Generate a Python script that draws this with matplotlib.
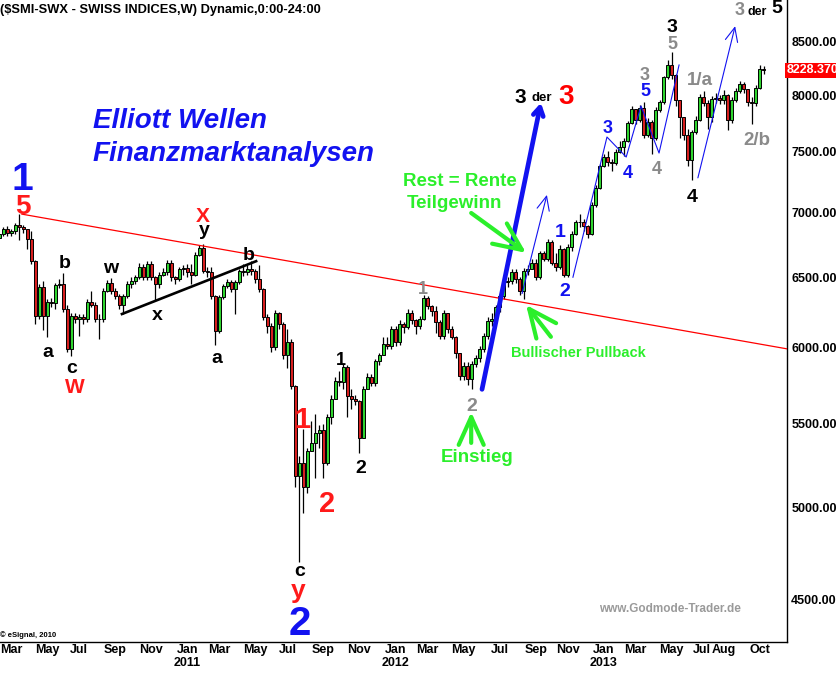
import numpy as np
import pandas as pd
import matplotlib
matplotlib.use('Agg')
import matplotlib.pyplot as plt
from matplotlib.ticker import FixedLocator, NullLocator, FixedFormatter
from matplotlib.transforms import ScaledTranslation

plt.rcParams['font.family'] = ['Liberation Sans', 'DejaVu Sans']

# weekly SMI bars (Friday closes), first bar 2010-02-12; open = previous close
FIRST_WEEK = '2010-02-12'
first_open = 6800
closes = [
    6830, 6865, 6840, 6850, 6900, 6880, 6870, 6790, 6620, 6220,
    6430, 6220, 6320, 6310, 6440, 6450, 6270, 5990, 6220, 6200,
    6210, 6200, 6320, 6300, 6200, 6195, 6400, 6460, 6400, 6360,
    6300, 6360, 6450, 6470, 6500, 6580, 6500, 6600, 6500, 6450,
    6520, 6540, 6610, 6500, 6485, 6560, 6570, 6540, 6520, 6670,
    6720, 6550, 6540, 6360, 6115, 6355, 6435, 6465, 6410, 6465,
    6545, 6540, 6560, 6550, 6490, 6410, 6210, 6150, 6005, 6240,
    6165, 5945, 6040, 5745, 5180, 5260, 5115, 5330, 5380, 5440,
    5460, 5260, 5540, 5660, 5775, 5770, 5870, 5675, 5655, 5645,
    5410, 5725, 5800, 5760, 5905, 5945, 6025, 6010, 6130, 6040,
    6165, 6140, 6240, 6190, 6150, 6200, 6350, 6290, 6255, 6180,
    6080, 6240, 6130, 6075, 5960, 5810, 5875, 5790, 5890, 5925,
    5990, 6080, 6185, 6200, 6280, 6360, 6465, 6470, 6540, 6485,
    6400, 6550, 6565, 6610, 6500, 6680, 6640, 6770, 6610, 6580,
    6715, 6520, 6725, 6825, 6925, 6920, 6890, 6825, 7060, 7200,
    7375, 7455, 7415, 7405, 7500, 7545, 7590, 7750, 7875, 7780,
    7885, 7645, 7760, 7620, 7865, 7940, 8165, 8280, 8185, 7960,
    7800, 7645, 7430, 7670, 7780, 7985, 7930, 7800, 7965, 7975,
    7955, 8000, 7780, 7955, 8040, 8100, 8055, 7940, 7930, 8070,
    8240, 8228.37]
highs = [
    6860, 6885, 6895, 6870, 6915, 6990, 6900, 6860, 6850, 6630,
    6450, 6470, 6340, 6350, 6460, 6490, 6530, 6300, 6240, 6240,
    6230, 6230, 6340, 6400, 6320, 6230, 6420, 6480, 6495, 6420,
    6380, 6380, 6470, 6500, 6520, 6610, 6600, 6620, 6620, 6510,
    6540, 6570, 6630, 6630, 6510, 6580, 6590, 6600, 6600, 6690,
    6740, 6750, 6580, 6580, 6370, 6370, 6450, 6490, 6480, 6480,
    6560, 6600, 6590, 6620, 6560, 6590, 6420, 6230, 6170, 6260,
    6250, 6180, 6130, 6060, 5750, 5300, 5470, 5350, 5520, 5560,
    5490, 5500, 5560, 5680, 5800, 5840, 5890, 5880, 5720, 5680,
    5650, 5740, 5830, 5820, 5920, 5960, 6070, 6070, 6150, 6150,
    6190, 6180, 6270, 6260, 6200, 6220, 6370, 6360, 6300, 6290,
    6190, 6260, 6240, 6150, 6080, 5960, 5900, 5900, 5910, 5945,
    6010, 6100, 6210, 6240, 6300, 6380, 6480, 6500, 6560, 6560,
    6500, 6570, 6590, 6640, 6640, 6700, 6700, 6790, 6780, 6680,
    6740, 6720, 6750, 6850, 6940, 6990, 6950, 6900, 7080, 7220,
    7400, 7480, 7510, 7440, 7520, 7590, 7620, 7770, 7900, 7870,
    7910, 7940, 7790, 7780, 7890, 7960, 8180, 8330, 8400, 8200,
    7860, 7760, 7700, 7690, 7810, 8010, 8040, 7960, 7990, 8020,
    8000, 8050, 8010, 7980, 8070, 8130, 8120, 8060, 7980, 8090,
    8280, 8270]
lows = [
    6760, 6810, 6815, 6810, 6830, 6780, 6840, 6710, 6600, 6160,
    6200, 6120, 6070, 6280, 6270, 6420, 6250, 5970, 5940, 6170,
    6080, 6160, 6180, 6280, 6180, 6060, 6180, 6390, 6380, 6340,
    6270, 6230, 6350, 6420, 6450, 6490, 6480, 6480, 6480, 6330,
    6420, 6510, 6520, 6470, 6450, 6470, 6520, 6500, 6450, 6510,
    6660, 6530, 6500, 6340, 6020, 6100, 6340, 6420, 6390, 6230,
    6450, 6510, 6520, 6520, 6460, 6390, 6190, 6100, 5970, 5980,
    6130, 5920, 5860, 5720, 5117, 4700, 4970, 5080, 5360, 5170,
    5350, 5170, 5250, 5500, 5700, 5740, 5720, 5540, 5590, 5620,
    5320, 5420, 5720, 5740, 5740, 5880, 5990, 5990, 5990, 6010,
    6020, 6100, 6130, 6160, 6090, 6130, 6190, 6270, 6220, 6100,
    6060, 6060, 6100, 6060, 5930, 5780, 5780, 5750, 5725, 5870,
    5900, 5970, 6060, 6150, 6170, 6250, 6340, 6430, 6450, 6460,
    6370, 6340, 6520, 6560, 6480, 6490, 6620, 6620, 6590, 6550,
    6560, 6500, 6500, 6700, 6820, 6880, 6850, 6800, 6820, 7040,
    7190, 7370, 7380, 7340, 7390, 7490, 7460, 7580, 7740, 7740,
    7760, 7620, 7630, 7480, 7600, 7850, 7920, 8150, 8150, 7900,
    7620, 7600, 7380, 7265, 7650, 7770, 7900, 7700, 7760, 7930,
    7920, 7920, 7690, 7750, 7940, 8020, 8020, 7900, 7740, 7900,
    8060, 8200]

tick_months = ['2010-03', '2010-05', '2010-07', '2010-09', '2010-11',
               '2011-01', '2011-03', '2011-05', '2011-07', '2011-09', '2011-11',
               '2012-01', '2012-03', '2012-05', '2012-07', '2012-09', '2012-11',
               '2013-01', '2013-03', '2013-05', '2013-07', '2013-08', '2013-10']
y_ticks = [4500, 5000, 5500, 6000, 6500, 7000, 7500, 8000, 8500]

# drawn lines, as (bar index, price)
trend_x, trend_y = [5.7, 196.8], [6985, 5990]
xline_x, xline_y = [30.7, 64.2], [6233, 6620]
zig_x = [143.3, 151.8, 156.6, 160.3, 164.8, 169.8]
zig_y = [6500, 7627, 7455, 7902, 7489, 8280]
thick_blue = [(120.6, 5720), (135.3, 7930)]
blue_arrows = [[(130.6, 6380), (136.8, 7140)], [(174.5, 7280), (183.8, 8655)]]
green_arrows = [[(117.9, 6994), (131.6, 6683)],
                [(137.8, 6073), (131.6, 6298)],
                [(117.9, 5381), (117.9, 5574)]]

W, H = 837, 674
BLUE = '#1212f0'
RED = '#ff1a1a'
GRAY = '#8a8a8a'
GREEN = '#2bef2b'

closes = np.array(closes, dtype=float)
opens = np.r_[first_open, closes[:-1]]
hi = np.maximum(np.array(highs, dtype=float), np.maximum(opens, closes))
lo = np.minimum(np.array(lows, dtype=float), np.minimum(opens, closes))
idx = np.arange(len(closes))
dates = pd.date_range(FIRST_WEEK, periods=len(closes), freq='W-FRI')

fig = plt.figure(figsize=(W / 100, H / 100), dpi=100)
ax = fig.add_axes([0, 32 / H, 787 / W, 642 / H])

up = closes >= opens
colors = np.where(up, '#2fd42f', '#d61f1f')
ax.vlines(idx, lo, hi, color='black', lw=0.9, zorder=2)
body_lo = np.minimum(opens, closes)
body_hi = np.maximum(opens, closes)
ax.bar(idx, np.maximum(body_hi - body_lo, 1.0), bottom=body_lo, width=0.75,
       color=colors, edgecolor='black', lw=0.7, zorder=3)

ax.set_yscale('log')
ax.set_ylim(4288, 8917)
ax.set_xlim(0.25, 196.75)

ax.plot(trend_x, trend_y, color='#ff0000', lw=0.9, zorder=4)
ax.plot(xline_x, xline_y, color='black', lw=1.9, zorder=4)
ax.plot(zig_x, zig_y, color=BLUE, lw=0.8, zorder=4)


def arrow(tail, tip, color, lw, hl, hw, scale):
    ax.annotate('', xy=tip, xytext=tail,
                arrowprops=dict(arrowstyle=f'->,head_length={hl},head_width={hw}',
                                color=color, lw=lw, shrinkA=0, shrinkB=0,
                                mutation_scale=scale), zorder=5)


arrow(thick_blue[0], thick_blue[1], BLUE, 3.4, 0.5, 0.3, 12)
for a in blue_arrows:
    arrow(a[0], a[1], BLUE, 0.8, 1.0, 0.45, 10)
for a in green_arrows:
    arrow(a[0], a[1], GREEN, 3.0, 1.0, 0.45, 20)

# axes cosmetics
ax.yaxis.tick_right()
ax.yaxis.set_major_locator(FixedLocator(y_ticks))
ax.yaxis.set_minor_locator(NullLocator())
ax.yaxis.set_major_formatter(FixedFormatter([f'{v:.2f}' for v in y_ticks]))
ax.tick_params(axis='y', length=0, pad=3, labelsize=9)

months = np.array(dates.strftime('%Y-%m'))
pos, labels = [], []
for m in tick_months:
    i = int(np.argmax(months == m))
    d = dates[i]
    pos.append(i)
    labels.append(d.strftime('%b') + ('\n' + d.strftime('%Y') if d.month == 1 else ''))
ax.set_xticks(pos)
ax.set_xticklabels(labels, linespacing=1.15)
ax.xaxis.set_minor_locator(NullLocator())
ax.tick_params(axis='x', length=0, pad=1.5, labelsize=9)
for lbl in ax.get_xticklabels() + ax.get_yticklabels():
    lbl.set_fontweight('bold')
# eSignal squeezes Jul/Aug 2013 together; nudge Jul left a little
jul = ax.get_xticklabels()[tick_months.index('2013-07')]
jul.set_transform(jul.get_transform() + ScaledTranslation(-4 / 72, 0, fig.dpi_scale_trans))

for s in ['top', 'left']:
    ax.spines[s].set_visible(False)
for s in ['right', 'bottom']:
    ax.spines[s].set_linewidth(1.0)

ax.text(1.0, closes[-1], f'{closes[-1]:.3f}', transform=ax.get_yaxis_transform(),
        ha='left', va='center', color='white', fontsize=9, fontweight='bold',
        bbox=dict(boxstyle='square,pad=0.12', fc='#ff0000', ec='none'), clip_on=False)


def put(x, y, s, size, color, ha='center', style='normal'):
    fig.text(x / W, 1 - y / H, s, fontsize=size, color=color, ha=ha,
             va='baseline', fontweight='bold', fontstyle=style)


put(0, 13, '($SMI-SWX - SWISS INDICES,W) Dynamic,0:00-24:00', 9.3, 'black', ha='left')
put(93, 128, 'Elliott Wellen', 20, BLUE, ha='left', style='italic')
put(93, 161, 'Finanzmarktanalysen', 20, BLUE, ha='left', style='italic')
put(0, 637, '\u00a9 eSignal, 2010', 5.5, 'black', ha='left')
put(670, 612, 'www.Godmode-Trader.de', 8.5, '#9a9a9a')

labels_txt = [
    (22, 190, '1', 28, BLUE), (23, 214, '5', 20, RED),
    (65, 268, 'b', 14, 'black'), (48, 357, 'a', 14, 'black'),
    (72, 373, 'c', 14, 'black'), (75, 393, 'W', 15, RED),
    (111, 273, 'w', 14, 'black'), (157, 320, 'x', 14, 'black'),
    (203, 222, 'X', 15, RED), (204, 235, 'y', 14, 'black'),
    (217, 363, 'a', 14, 'black'), (249, 260, 'b', 14, 'black'),
    (300, 576, 'c', 14, 'black'), (298, 598, 'y', 19, RED),
    (300, 635, '2', 29, BLUE),
    (302, 428, '1', 21, RED), (327, 512, '2', 21, RED),
    (341, 365, '1', 13, 'black'), (361, 473, '2', 14, 'black'),
    (423, 294, '1', 13, GRAY), (472, 411, '2', 14, GRAY),
    (520, 103, '3', 15, 'black'), (542, 101, 'der', 9.5, 'black'),
    (566, 104, '3', 20, '#ff0000'),
    (560, 237, '1', 14, BLUE), (565, 296, '2', 14, BLUE),
    (608, 133, '3', 13, BLUE), (628, 178, '4', 13, BLUE),
    (645, 96, '5', 13, BLUE), (645, 80, '3', 13, GRAY),
    (657, 174, '4', 13, GRAY), (672, 32, '3', 14, 'black'),
    (672, 49, '5', 13, GRAY), (692, 202, '4', 14, 'black'),
    (700, 85, '1/a', 13.5, GRAY), (757, 145, '2/b', 13.5, GRAY),
    (740, 15, '3', 13, GRAY), (757, 15, 'der', 9, 'black'),
    (777, 13, '5', 14, 'black'),
]
for x, y, s, size, c in labels_txt:
    put(x, y, s, size, c)

put(460, 186, 'Rest = Rente', 13.5, GREEN)
put(454, 208, 'Teilgewinn', 13.5, GREEN)
put(578, 357, 'Bullischer Pullback', 10.5, GREEN)
put(477, 462, 'Einstieg', 13.5, GREEN)

fig.savefig('out.png', dpi=100, facecolor='white')
